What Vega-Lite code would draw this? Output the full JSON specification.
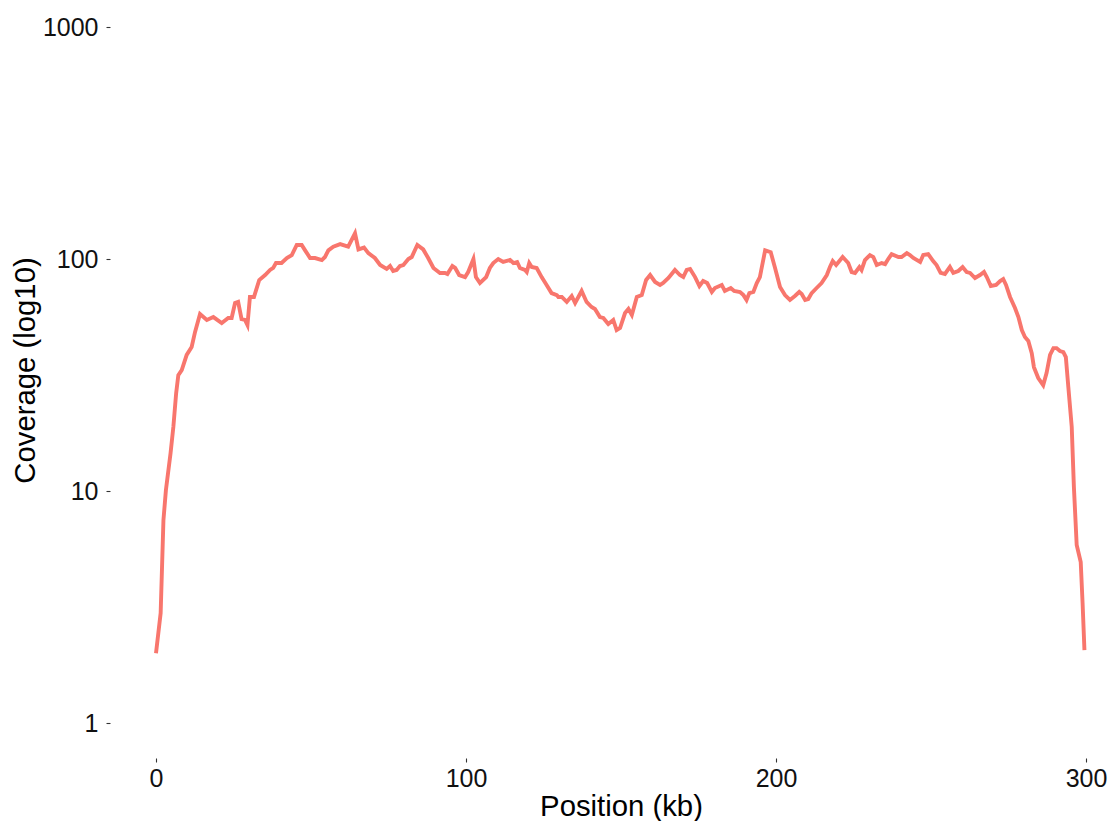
{
  "$schema": "https://vega.github.io/schema/vega-lite/v6.json",
  "width": 1002,
  "height": 758,
  "autosize": {"type": "none"},
  "padding": {"left": 110, "top": 0, "right": 0, "bottom": 63},
  "background": "white",
  "config": {
    "view": {"stroke": null},
    "font": "Liberation Sans",
    "axis": {
      "domain": false,
      "grid": false,
      "tickSize": 4,
      "tickColor": "#333333",
      "tickWidth": 1.1,
      "labelColor": "#111111",
      "labelFont": "Liberation Sans",
      "labelFontSize": 25,
      "titleFont": "Liberation Sans",
      "titleFontSize": 29.3,
      "titleFontWeight": "normal",
      "titleColor": "#000000"
    }
  },
  "data": {
    "values": [
      {"pos": 0, "cov": 2.0},
      {"pos": 1.5, "cov": 2.98},
      {"pos": 2.4, "cov": 7.5},
      {"pos": 3.2, "cov": 10.1},
      {"pos": 4.7, "cov": 14.6},
      {"pos": 5.6, "cov": 18.9},
      {"pos": 6.5, "cov": 26.4},
      {"pos": 7.2, "cov": 31.6},
      {"pos": 8.3, "cov": 33.2},
      {"pos": 9.9, "cov": 38.6},
      {"pos": 11.5, "cov": 41.8},
      {"pos": 12.6, "cov": 48.5},
      {"pos": 14.2, "cov": 57.9},
      {"pos": 16.4, "cov": 54.6},
      {"pos": 18.5, "cov": 56.2},
      {"pos": 21.2, "cov": 53.0},
      {"pos": 23.3, "cov": 55.7},
      {"pos": 24.4, "cov": 55.7},
      {"pos": 25.5, "cov": 64.6},
      {"pos": 26.5, "cov": 65.3},
      {"pos": 27.6, "cov": 55.1},
      {"pos": 28.7, "cov": 54.6},
      {"pos": 29.5, "cov": 51.9},
      {"pos": 30.3, "cov": 68.6},
      {"pos": 31.6, "cov": 68.6},
      {"pos": 33.3, "cov": 81.2},
      {"pos": 35.2, "cov": 85.3},
      {"pos": 36.8, "cov": 89.7},
      {"pos": 37.8, "cov": 91.5},
      {"pos": 38.7, "cov": 96.1},
      {"pos": 40.5, "cov": 96.1},
      {"pos": 42.2, "cov": 101},
      {"pos": 43.8, "cov": 104},
      {"pos": 45.4, "cov": 115},
      {"pos": 47.0, "cov": 115},
      {"pos": 48.1, "cov": 109},
      {"pos": 49.7, "cov": 101},
      {"pos": 51.3, "cov": 101},
      {"pos": 53.5, "cov": 99},
      {"pos": 54.5, "cov": 102},
      {"pos": 55.6, "cov": 109},
      {"pos": 57.2, "cov": 113},
      {"pos": 59.4, "cov": 116},
      {"pos": 62.0, "cov": 113},
      {"pos": 64.2, "cov": 129},
      {"pos": 65.3, "cov": 110},
      {"pos": 67.1, "cov": 112},
      {"pos": 68.5, "cov": 106},
      {"pos": 70.6, "cov": 101},
      {"pos": 72.3, "cov": 94.2},
      {"pos": 74.4, "cov": 90.6},
      {"pos": 75.5, "cov": 93.3},
      {"pos": 76.5, "cov": 88.8},
      {"pos": 77.6, "cov": 89.7},
      {"pos": 78.7, "cov": 93.3},
      {"pos": 79.8, "cov": 94.2},
      {"pos": 81.4, "cov": 100},
      {"pos": 82.5, "cov": 102},
      {"pos": 84.3, "cov": 115},
      {"pos": 86.2, "cov": 110},
      {"pos": 87.8, "cov": 101},
      {"pos": 89.5, "cov": 91.5},
      {"pos": 91.6, "cov": 87.1},
      {"pos": 93.2, "cov": 87.1},
      {"pos": 94.0, "cov": 86.2},
      {"pos": 95.6, "cov": 93.3},
      {"pos": 96.5, "cov": 91.5},
      {"pos": 97.8, "cov": 85.3},
      {"pos": 99.7, "cov": 83.6},
      {"pos": 100.7, "cov": 87.9},
      {"pos": 102.4, "cov": 100},
      {"pos": 103.2, "cov": 83.6},
      {"pos": 104.5, "cov": 78.8},
      {"pos": 106.5, "cov": 83.6},
      {"pos": 107.7, "cov": 91.5},
      {"pos": 108.8, "cov": 96.1},
      {"pos": 110.4, "cov": 100},
      {"pos": 112.0, "cov": 97.1},
      {"pos": 114.2, "cov": 99},
      {"pos": 115.3, "cov": 96.1},
      {"pos": 116.5, "cov": 97.1},
      {"pos": 117.4, "cov": 91.5},
      {"pos": 119.0, "cov": 89.7},
      {"pos": 119.6, "cov": 87.9},
      {"pos": 120.4, "cov": 96.1},
      {"pos": 121.2, "cov": 92.4},
      {"pos": 122.8, "cov": 91.5},
      {"pos": 124.4, "cov": 83.6},
      {"pos": 126.0, "cov": 77.3},
      {"pos": 127.6, "cov": 71.3},
      {"pos": 129.3, "cov": 69.9},
      {"pos": 129.8, "cov": 68.6},
      {"pos": 130.9, "cov": 68.6},
      {"pos": 132.5, "cov": 65.3},
      {"pos": 134.1, "cov": 69.3},
      {"pos": 135.2, "cov": 64.6},
      {"pos": 137.3, "cov": 72.8},
      {"pos": 138.9, "cov": 65.3},
      {"pos": 140.5, "cov": 62.1},
      {"pos": 141.6, "cov": 60.9},
      {"pos": 143.2, "cov": 56.2},
      {"pos": 144.3, "cov": 55.7},
      {"pos": 145.9, "cov": 52.5},
      {"pos": 147.5, "cov": 54.6},
      {"pos": 148.6, "cov": 49.4},
      {"pos": 149.7, "cov": 50.4},
      {"pos": 151.3, "cov": 58.5},
      {"pos": 152.4, "cov": 60.9},
      {"pos": 153.5, "cov": 57.4},
      {"pos": 155.1, "cov": 68.6},
      {"pos": 156.7, "cov": 69.9},
      {"pos": 158.1, "cov": 81.2},
      {"pos": 159.4, "cov": 85.3},
      {"pos": 161.0, "cov": 79.6},
      {"pos": 162.6, "cov": 77.3},
      {"pos": 163.6, "cov": 78.8},
      {"pos": 165.3, "cov": 82.8},
      {"pos": 167.4, "cov": 89.7},
      {"pos": 169.0, "cov": 85.3},
      {"pos": 170.1, "cov": 83.6},
      {"pos": 171.2, "cov": 89.7},
      {"pos": 172.3, "cov": 90.6},
      {"pos": 173.9, "cov": 83.6},
      {"pos": 175.3, "cov": 76.5},
      {"pos": 176.5, "cov": 80.4},
      {"pos": 177.8, "cov": 78.8},
      {"pos": 179.3, "cov": 72.1},
      {"pos": 180.3, "cov": 75.0},
      {"pos": 182.5, "cov": 77.3},
      {"pos": 183.5, "cov": 72.8},
      {"pos": 185.4, "cov": 75.0},
      {"pos": 186.5, "cov": 72.8},
      {"pos": 188.4, "cov": 72.1},
      {"pos": 189.5, "cov": 69.9},
      {"pos": 190.5, "cov": 66.6},
      {"pos": 191.4, "cov": 71.3},
      {"pos": 192.7, "cov": 72.1},
      {"pos": 193.8, "cov": 78.8},
      {"pos": 194.8, "cov": 83.6},
      {"pos": 196.5, "cov": 109},
      {"pos": 198.3, "cov": 107},
      {"pos": 199.7, "cov": 91.5},
      {"pos": 201.3, "cov": 75.7},
      {"pos": 202.9, "cov": 69.9},
      {"pos": 204.5, "cov": 66.6},
      {"pos": 206.1, "cov": 69.3},
      {"pos": 207.5, "cov": 72.1},
      {"pos": 208.3, "cov": 70.6},
      {"pos": 209.4, "cov": 66.6},
      {"pos": 210.4, "cov": 67.2},
      {"pos": 211.5, "cov": 71.3},
      {"pos": 213.1, "cov": 75.0},
      {"pos": 214.7, "cov": 78.8},
      {"pos": 216.4, "cov": 85.3},
      {"pos": 217.4, "cov": 92.4},
      {"pos": 218.3, "cov": 98.0},
      {"pos": 219.4, "cov": 94.2},
      {"pos": 221.5, "cov": 102},
      {"pos": 223.3, "cov": 96.1},
      {"pos": 224.4, "cov": 87.9},
      {"pos": 225.5, "cov": 87.1},
      {"pos": 226.9, "cov": 92.4},
      {"pos": 227.6, "cov": 89.7},
      {"pos": 228.7, "cov": 99},
      {"pos": 230.3, "cov": 104},
      {"pos": 231.4, "cov": 102},
      {"pos": 232.5, "cov": 94.2},
      {"pos": 234.1, "cov": 96.1},
      {"pos": 235.2, "cov": 95.1},
      {"pos": 236.2, "cov": 100},
      {"pos": 237.3, "cov": 105},
      {"pos": 239.5, "cov": 102},
      {"pos": 240.5, "cov": 102},
      {"pos": 242.2, "cov": 106},
      {"pos": 243.2, "cov": 104},
      {"pos": 244.3, "cov": 101},
      {"pos": 246.5, "cov": 97.1},
      {"pos": 247.5, "cov": 104},
      {"pos": 249.1, "cov": 105},
      {"pos": 250.7, "cov": 98.0},
      {"pos": 251.8, "cov": 94.2},
      {"pos": 253.1, "cov": 87.1},
      {"pos": 254.5, "cov": 86.2},
      {"pos": 256.1, "cov": 92.4},
      {"pos": 257.2, "cov": 87.1},
      {"pos": 258.8, "cov": 88.8},
      {"pos": 260.2, "cov": 92.4},
      {"pos": 261.5, "cov": 87.9},
      {"pos": 262.6, "cov": 87.1},
      {"pos": 264.2, "cov": 82.8},
      {"pos": 265.8, "cov": 85.3},
      {"pos": 267.1, "cov": 87.9},
      {"pos": 268.0, "cov": 83.6},
      {"pos": 269.3, "cov": 76.5},
      {"pos": 271.0, "cov": 77.3},
      {"pos": 272.3, "cov": 80.4},
      {"pos": 273.3, "cov": 82.0},
      {"pos": 274.2, "cov": 77.3},
      {"pos": 275.5, "cov": 68.6},
      {"pos": 277.1, "cov": 61.5},
      {"pos": 278.2, "cov": 56.2},
      {"pos": 279.3, "cov": 49.4},
      {"pos": 280.3, "cov": 46.1},
      {"pos": 281.4, "cov": 44.3},
      {"pos": 282.5, "cov": 39.3},
      {"pos": 283.2, "cov": 34.2},
      {"pos": 284.6, "cov": 30.7},
      {"pos": 286.2, "cov": 28.6},
      {"pos": 287.3, "cov": 32.3},
      {"pos": 288.4, "cov": 38.6},
      {"pos": 289.5, "cov": 41.3},
      {"pos": 290.5, "cov": 41.3},
      {"pos": 291.6, "cov": 40.1},
      {"pos": 292.7, "cov": 39.7},
      {"pos": 293.5, "cov": 37.8},
      {"pos": 294.3, "cov": 28.1},
      {"pos": 295.4, "cov": 18.9},
      {"pos": 296.1, "cov": 10.4},
      {"pos": 297.0, "cov": 5.85},
      {"pos": 298.3, "cov": 4.94},
      {"pos": 298.9, "cov": 3.29},
      {"pos": 299.5, "cov": 2.06}
    ]
  },
  "mark": {"type": "line", "color": "#F8766D", "strokeWidth": 3.9, "clip": true},
  "encoding": {
    "x": {
      "field": "pos",
      "type": "quantitative",
      "scale": {"domain": [-14.84, 308.39], "nice": false, "zero": false},
      "axis": {
        "title": "Position (kb)",
        "values": [0, 100, 200, 300],
        "format": "d",
        "labelPadding": 4,
        "titlePadding": 1,
        "titleX": 511
      }
    },
    "y": {
      "field": "cov",
      "type": "quantitative",
      "scale": {"type": "log", "domain": [0.7066, 1307.6], "nice": false, "zero": false},
      "axis": {
        "title": "Coverage (log10)",
        "values": [1, 10, 100, 1000],
        "format": "d",
        "labelPadding": 8,
        "titlePadding": 2,
        "titleY": 370
      }
    }
  }
}
